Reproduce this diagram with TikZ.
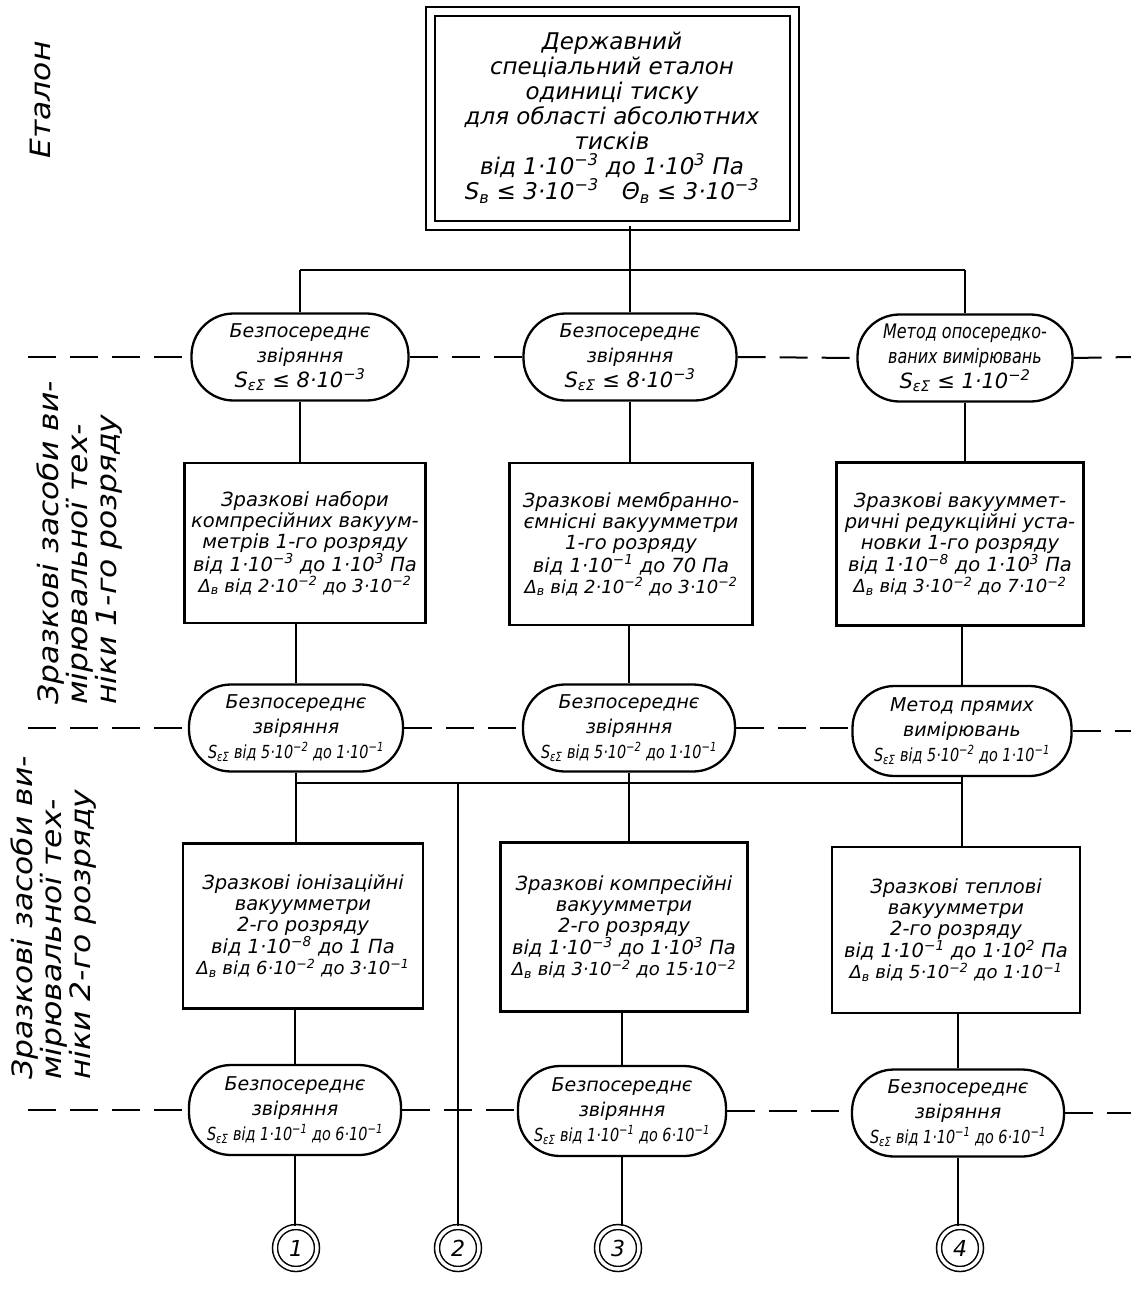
\documentclass[tikz,border=0pt]{standalone}
\usepackage{fontspec}
\setmainfont{DejaVu Sans}
\newfontfamily\sidefont{DejaVu Sans}[FakeStretch=1.12]
\newfontfamily\narrowfont{DejaVu Sans}[FakeStretch=0.8]
\usetikzlibrary{calc}
\newcommand{\up}[1]{\textsuperscript{#1}}
\newcommand{\dn}[1]{\textsubscript{#1}}
\newcommand{\dl}{\fontsize{18}{21}\selectfont}
\newcommand{\rl}{\narrowfont\itshape\fontsize{18}{25}\selectfont}
\begin{document}
\begin{tikzpicture}[x=1pt,y=-1pt,
  topbox/.style={draw, double, line width=2pt, double distance=7pt, align=center, inner sep=0pt,
     minimum width=364pt, minimum height=214pt, font=\itshape\fontsize{23}{25}\selectfont},
  sbox/.style={draw, line width=2.4pt, align=center, inner sep=0pt, font=\itshape\fontsize{19.5}{21}\selectfont},
  oval/.style={draw, line width=2.3pt, rounded corners=42pt, align=center, inner sep=0pt,
     minimum height=87pt, minimum width=213pt, font=\itshape\fontsize{19}{25}\selectfont},
  conn/.style={line width=1.5pt},
  dsh/.style={line width=2pt, dash pattern=on 28pt off 14pt},
  num/.style={draw, circle, double, line width=1.5pt, double distance=3.5pt, minimum size=42pt,
     inner sep=0pt, font=\itshape\fontsize{22}{22}\selectfont},
  side/.style={rotate=90, align=left, font=\sidefont\itshape\fontsize{28}{29}\selectfont}
]
\useasboundingbox (0,0) rectangle (1131,1301);
\fill[white] (0,0) rectangle (1131,1301);

% top standard
\node[topbox] (top) at (612,118) {Державний\\спеціальний еталон\\одиниці тиску\\для області абсолютних\\тисків\\від 1·10\up{−3} до 1·10\up{3} Па\\S\dn{в} ≤ 3·10\up{−3}\quad Θ\dn{в} ≤ 3·10\up{−3}};

% row 1 ovals
\node[oval, minimum width=217pt] (a1) at (300,357) {Безпосереднє\\звіряння\\{\fontsize{21}{25}\selectfont S\dn{εΣ} ≤ 8·10\up{−3}}};
\node[oval] (a2) at (630,357) {Безпосереднє\\звіряння\\{\fontsize{21}{25}\selectfont S\dn{εΣ} ≤ 8·10\up{−3}}};
\node[oval, minimum width=215pt] (a3) at (965,358) {{\narrowfont\itshape\fontsize{20}{25}\selectfont Метод опосередко-}\\{\narrowfont\itshape\fontsize{20}{25}\selectfont ваних вимірювань}\\{\fontsize{21}{25}\selectfont S\dn{εΣ} ≤ 1·10\up{−2}}};

% row 1 boxes
\node[sbox, minimum width=241pt, minimum height=160pt] (b1) at (305,543) {Зразкові набори\\компресійних вакуум-\\метрів 1-го розряду\\від 1·10\up{−3} до 1·10\up{3} Па\\{\dl Δ\dn{в} від 2·10\up{−2} до 3·10\up{−2}}};
\node[sbox, minimum width=243pt, minimum height=162pt] (b2) at (631,544) {Зразкові мембранно-\\ємнісні вакуумметри\\1-го розряду\\від 1·10\up{−1} до 70 Па\\{\dl Δ\dn{в} від 2·10\up{−2} до 3·10\up{−2}}};
\node[sbox, minimum width=247pt, minimum height=163pt] (b3) at (960,544) {Зразкові вакууммет-\\ричні редукційні уста-\\новки 1-го розряду\\від 1·10\up{−8} до 1·10\up{3} Па\\{\dl Δ\dn{в} від 3·10\up{−2} до 7·10\up{−2}}};

% row 2 ovals
\node[oval, minimum width=214pt] (c1) at (296,728) {Безпосереднє\\звіряння\\{\rl S\dn{εΣ} від 5·10\up{−2} до 1·10\up{−1}}};
\node[oval, minimum width=212pt] (c2) at (629,728) {Безпосереднє\\звіряння\\{\rl S\dn{εΣ} від 5·10\up{−2} до 1·10\up{−1}}};
\node[oval, minimum width=219pt, minimum height=90pt] (c3) at (962,731) {Метод прямих\\вимірювань\\{\rl S\dn{εΣ} від 5·10\up{−2} до 1·10\up{−1}}};

% row 2 boxes
\node[sbox, minimum width=240pt, minimum height=165pt] (d1) at (303,926) {Зразкові іонізаційні\\вакуумметри\\2-го розряду\\від 1·10\up{−8} до 1 Па\\{\dl Δ\dn{в} від 6·10\up{−2} до 3·10\up{−1}}};
\node[sbox, minimum width=247pt, minimum height=169pt] (d2) at (624,927) {Зразкові компресійні\\вакуумметри\\2-го розряду\\від 1·10\up{−3} до 1·10\up{3} Па\\{\dl Δ\dn{в} від 3·10\up{−2} до 15·10\up{−2}}};
\node[sbox, minimum width=248pt, minimum height=166pt] (d3) at (956,930) {Зразкові теплові\\вакуумметри\\2-го розряду\\від 1·10\up{−1} до 1·10\up{2} Па\\{\dl Δ\dn{в} від 5·10\up{−2} до 1·10\up{−1}}};

% row 3 ovals
\node[oval, minimum width=212pt, minimum height=90pt] (e1) at (295,1110) {Безпосереднє\\звіряння\\{\rl S\dn{εΣ} від 1·10\up{−1} до 6·10\up{−1}}};
\node[oval, minimum width=208pt, minimum height=90pt] (e2) at (622,1111) {Безпосереднє\\звіряння\\{\rl S\dn{εΣ} від 1·10\up{−1} до 6·10\up{−1}}};
\node[oval, minimum width=212pt] (e3) at (958,1113) {Безпосереднє\\звіряння\\{\rl S\dn{εΣ} від 1·10\up{−1} до 6·10\up{−1}}};

% numbered circles
\node[num] (n1) at (296,1248) {1};
\node[num] (n2) at (458,1248) {2};
\node[num] (n3) at (618,1248) {3};
\node[num] (n4) at (960,1248) {4};

% side labels
\node[side] (s0) at (40,100) {Еталон};
\node[side] (s1) at (80,543) {Зразкові засоби ви-\\мірювальної тех-\\ніки 1-го розряду};
\node[side] (s2) at (54,918) {Зразкові засоби ви-\\мірювальної тех-\\ніки 2-го розряду};

% connectors
\coordinate (h1L) at (300,270);
\coordinate (h1R) at (965,270);
\coordinate (h2L) at (300,783);
\coordinate (h2R) at (962,783);
\coordinate (h2M) at (458,783);
\draw[conn] (top.south -| a2) -- (a2 |- h1L);
\draw[conn] (h1L) -- (h1R);
\draw[conn] (h1L) -- (a1.north);
\draw[conn] (a2 |- h1L) -- (a2.north);
\draw[conn] (h1R) -- (a3.north);
\draw[conn] (a1.south) -- (a1.south |- b1.north);
\draw[conn] (a2.south) -- (a2.south |- b2.north);
\draw[conn] (a3.south) -- (a3.south |- b3.north);
\draw[conn] (b1.south -| c1) -- (c1.north);
\draw[conn] (b2.south -| c2) -- (c2.north);
\draw[conn] (b3.south -| c3) -- (c3.north);
\draw[conn] (c1.south) -- (c1.south |- h2L);
\draw[conn] (c2.south) -- (c2.south |- h2L);
\draw[conn] (c3.south) -- (c3.south |- h2L);
\draw[conn] (h2L -| c1) -- (h2R);
\draw[conn] (c1 |- h2L) -- (c1 |- d1.north);
\draw[conn] (c2 |- h2L) -- (c2 |- d2.north);
\draw[conn] (h2R) -- (h2R |- d3.north);
\draw[conn] (h2M) -- (n2.north);
\draw[conn] (d1.south -| e1) -- (e1.north);
\draw[conn] (d2.south -| e2) -- (e2.north);
\draw[conn] (d3.south -| e3) -- (e3.north);
\draw[conn] (e1.south) -- (e1.south |- n1.north);
\draw[conn] (e2.south) -- (e2.south |- n3.north);
\draw[conn] (e3.south) -- (e3.south |- n4.north);

% dashed level lines
\coordinate (l1) at (28,357);
\coordinate (r1) at (1131,357);
\coordinate (l2) at (28,728);
\coordinate (r2) at (1131,731);
\coordinate (l3) at (28,1110);
\coordinate (r3) at (1131,1113);
\draw[dsh] (l1) -- (a1.west);
\draw[dsh] (a1.east) -- (a2.west);
\draw[dsh] (a2.east) -- (a3.west);
\draw[dsh] (a3.east) -- (r1);
\draw[dsh] (l2) -- (c1.west);
\draw[dsh] (c1.east) -- (c2.west |- c1.east);
\draw[dsh] (c2.east) -- (c3.west |- c2.east);
\draw[dsh] (c3.east) -- (r2);
\draw[dsh] (l3) -- (e1.west);
\draw[dsh] (e1.east) -- (e2.west |- e1.east);
\draw[dsh] (e2.east) -- (e3.west |- e2.east);
\draw[dsh] (e3.east) -- (r3);
\end{tikzpicture}
\end{document}
